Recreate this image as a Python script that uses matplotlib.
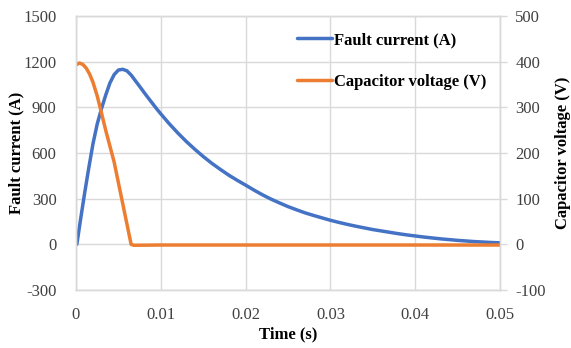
import matplotlib
matplotlib.use("Agg")
import matplotlib.pyplot as plt

# ---- data ----
t_current = [0.0, 0.0001, 0.0005, 0.001, 0.0015, 0.002, 0.0025, 0.003, 0.0035, 0.004,
             0.0045, 0.005, 0.0055, 0.006, 0.0065, 0.007, 0.0075, 0.008, 0.0085, 0.009,
             0.0095, 0.010, 0.011, 0.012, 0.013, 0.014, 0.015, 0.016, 0.017, 0.018,
             0.019, 0.020, 0.021, 0.022, 0.023, 0.024, 0.025, 0.026, 0.027, 0.028,
             0.029, 0.030, 0.031, 0.032, 0.033, 0.034, 0.035, 0.036, 0.037, 0.038,
             0.039, 0.040, 0.041, 0.042, 0.043, 0.044, 0.045, 0.046, 0.047, 0.048,
             0.049, 0.050]
fault_current = [0, 0, 150, 330, 500, 660, 790, 890, 980, 1060,
                 1115, 1145, 1150, 1140, 1112, 1075, 1038, 1000, 963, 927,
                 891, 857, 792, 732, 676, 625, 577, 533, 493, 455,
                 421, 389, 356, 325, 297, 272, 248, 227, 207, 190,
                 174, 158, 144, 131, 119, 108, 97, 88, 79, 70,
                 62, 55, 48, 42, 36, 31, 26, 22, 18, 15,
                 12, 10]

t_voltage = [0.0, 0.0004, 0.0008, 0.0012, 0.0016, 0.002, 0.0025, 0.003, 0.0035, 0.004,
             0.0045, 0.005, 0.0055, 0.006, 0.0065, 0.0068, 0.01, 0.02, 0.03, 0.04, 0.05]
cap_voltage = [393, 397, 394, 386, 373, 355, 325, 288, 250, 215,
               180, 135, 90, 45, 0, -2, -1.5, -1.5, -1.5, -1.5, -1.5]

x_ticks = [0, 0.01, 0.02, 0.03, 0.04, 0.05]
x_tick_labels = ["0", "0.01", "0.02", "0.03", "0.04", "0.05"]
left_ticks = [-300, 0, 300, 600, 900, 1200, 1500]
right_ticks = [-100, 0, 100, 200, 300, 400, 500]

# ---- style ----
plt.rcParams['font.family'] = ['Liberation Serif', 'DejaVu Serif']
plt.rcParams['axes.unicode_minus'] = False
FS = 12
GRID = '#d9d9d9'
BLUE = '#4472C4'
ORANGE = '#ED7D31'
TXT = '#404040'

fig = plt.figure(figsize=(5.71, 3.48), dpi=100)
ax = fig.add_axes([76/571, 1 - 290/348, (500-76)/571, (290-16)/348])
ax2 = ax.twinx()

l1, = ax.plot(t_current, fault_current, color=BLUE, lw=2.5, solid_capstyle='round',
              solid_joinstyle='round', label='Fault current (A)')
l2, = ax2.plot(t_voltage, cap_voltage, color=ORANGE, lw=2.5, solid_capstyle='round',
               solid_joinstyle='round', label='Capacitor voltage (V)')

ax.set_xlim(0, 0.05)
ax.set_ylim(-300, 1500)
ax2.set_ylim(-100, 500)
ax.set_xticks(x_ticks)
ax.set_xticklabels(x_tick_labels)
ax.set_yticks(left_ticks)
ax2.set_yticks(right_ticks)

ax.grid(True, color=GRID, lw=1.0)
ax.set_axisbelow(True)
for a in (ax, ax2):
    for s in a.spines.values():
        s.set_color(GRID)
        s.set_linewidth(1.0)
ax.tick_params(axis='y', length=0, labelsize=FS, colors=TXT, pad=14)
ax.tick_params(axis='x', length=0, labelsize=FS, colors=TXT, pad=12)
ax2.tick_params(axis='y', length=5, width=1.0, color=GRID, labelsize=FS,
                labelcolor=TXT, pad=6)

ax.set_xlabel('Time (s)', fontsize=FS, fontweight='bold', labelpad=3)
ax.set_ylabel('Fault current (A)', fontsize=FS, fontweight='bold', labelpad=-1)
ax2.set_ylabel('Capacitor voltage (V)', fontsize=FS, fontweight='bold', labelpad=7)

leg = ax2.legend(handles=[l1, l2], loc='upper left',
                 bbox_to_anchor=(297/571, 1 - 32/348), bbox_transform=fig.transFigure,
                 frameon=False, borderpad=0, borderaxespad=0,
                 handlelength=2.1, handletextpad=0.1, labelspacing=1.55,
                 prop={'size': FS, 'weight': 'bold'})

fig.savefig('out.png', dpi=100)
